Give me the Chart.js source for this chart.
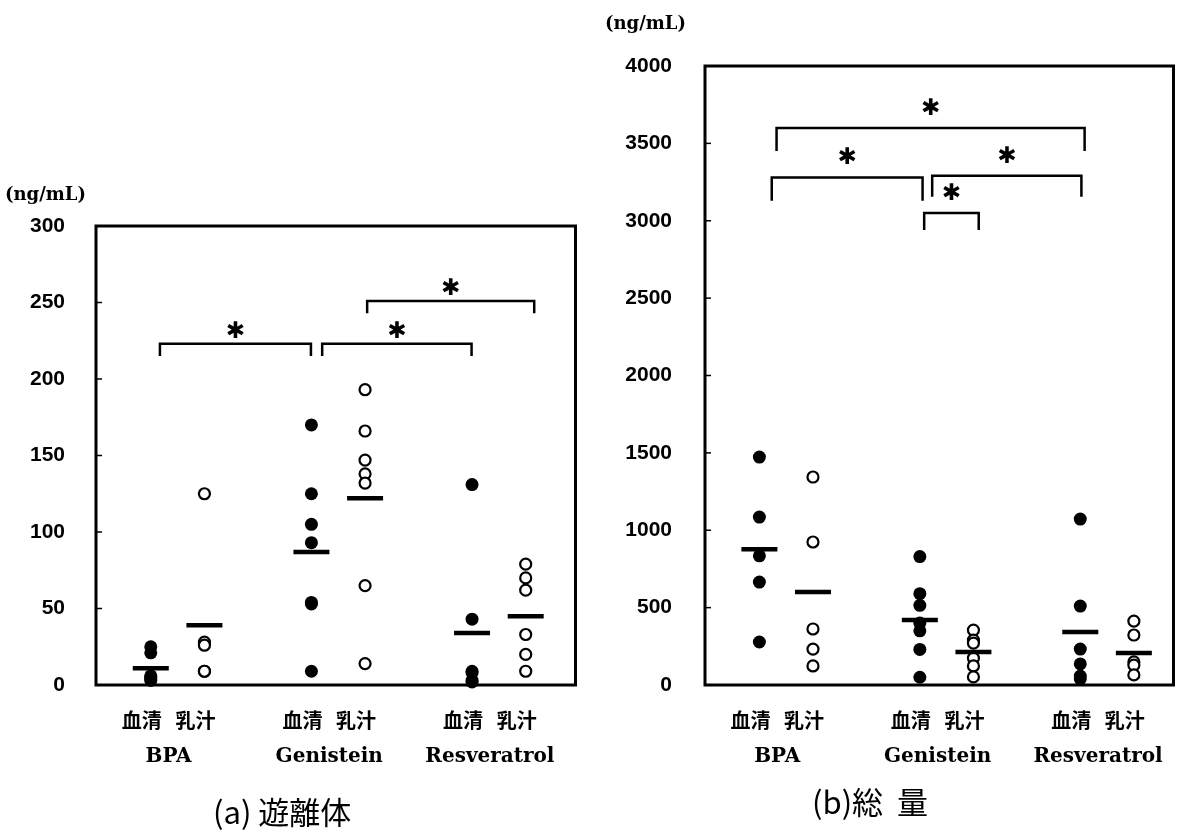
<!DOCTYPE html>
<html>
<head>
<meta charset="utf-8">
<script src="https://cdn.jsdelivr.net/npm/chart.js@4.4.0/dist/chart.umd.min.js"></script>
<style>
    body { margin: 0; background: #fff; width: 1196px; height: 836px; position: relative; overflow: hidden; }
    canvas { position: absolute; top: 0; }
    .unit { position: absolute; font: bold 18px "DejaVu Serif", serif; color: #000; }
    .title { position: absolute; font: 31px "Noto Sans CJK JP", sans-serif; color: #000; white-space: pre; }
</style>
</head>
<body>
<canvas id="chart-free" width="598" height="836" style="left:0"></canvas>
<canvas id="chart-total" width="598" height="836" style="left:598px"></canvas>
<div class="unit" style="left:5px; top:183px">(ng/mL)</div>
<div class="unit" style="left:605px; top:12px">(ng/mL)</div>
<div class="title" style="left:213px; top:788px">(a) 遊離体</div>
<div class="title" style="left:812px; top:778px">(b)総  量</div>

<script>
const groups = ['BPA', 'Genistein', 'Resveratrol']
const sampleTypes = ['血清', '乳汁']

// (a) 遊離体  - valores por grupo (BPA, Genistein, Resveratrol)
const freeSerum = [[25, 21, 6, 5, 4, 3], [170, 125, 105, 93, 54, 53, 9], [131, 43, 9, 8, 3, 2]]
const freeMilk = [[125, 28, 26, 9, 9], [193, 166, 147, 138, 132, 65, 14], [79, 70, 62, 33, 20, 9]]
const freeSerumMean = [11, 87, 34]
const freeMilkMean = [39, 122, 45]
const freeTicks = [0, 50, 100, 150, 200, 250, 300]
// colchetes de significância: de, até, altura, descida
const freeBrackets = [[-0.11, 0.83, 223, 8], [0.9, 1.83, 223, 8], [1.18, 2.22, 251, 8]]

// (b) 総量
const totalSerum = [[1473, 1085, 835, 665, 278], [830, 590, 515, 400, 350, 230, 50], [1072, 510, 232, 136, 58, 39]]
const totalMilk = [[1344, 924, 362, 232, 123], [355, 290, 271, 174, 123, 52], [413, 323, 149, 129, 65]]
const totalSerumMean = [877, 420, 342]
const totalMilkMean = [601, 213, 207]
const totalTicks = [0, 500, 1000, 1500, 2000, 2500, 3000, 3500, 4000]
const totalBrackets = [[-0.06, 1.86, 3600, 150], [-0.09, 0.85, 3280, 150], [0.91, 1.84, 3290, 135], [0.86, 1.2, 3050, 110]]



const SIDE = 0.167

const toPoints = (values, side) => values.flatMap((vals, g) => vals.map(v => ({ x: g + side * SIDE, y: v })))
const toMeans = (means, side) => means.map((v, g) => ({ x: g + side * SIDE, y: v }))

// posições dos rótulos do eixo x (colunas + centro do grupo)
const xTickValues = groups.flatMap((_, g) => [g - SIDE, g, g + SIDE])

const xLabel = (value) => {
    const g = Math.round(value)
    const d = value - g
    if (Math.abs(d) < 0.01) return ['', groups[g]]
    return d < 0 ? sampleTypes[0] : sampleTypes[1]
}


const framePlugin = {
    id: 'frame',
    afterDatasetsDraw(chart, args, opts) {
        const { ctx, chartArea: a, scales: { x, y } } = chart
        ctx.save()
        ctx.strokeStyle = '#000'
        ctx.lineWidth = 3
        ctx.strokeRect(a.left, a.top, a.right - a.left, a.bottom - a.top)

        // pequenas marcas internas no eixo y
        ctx.lineWidth = 1.5
        y.ticks.forEach(t => {
            const py = y.getPixelForValue(t.value)
            ctx.beginPath()
            ctx.moveTo(a.left, py)
            ctx.lineTo(a.left + 6, py)
            ctx.stroke()
        })

        // asteriscos
        ctx.fillStyle = '#000'
        ctx.font = '23px "DejaVu Sans"'
        ctx.textAlign = 'center'
        ctx.textBaseline = 'middle'
        opts.brackets.forEach(b => {
            const px = x.getPixelForValue((b[0] + b[1]) / 2)
            const py = y.getPixelForValue(b[2])
            ctx.fillText('✱', px, py - opts.starGap)
        })
        ctx.restore()
    }
}


const makeChart = (id, cfg) => {
    const datasets = [
        {
            label: 'mean',
            data: [...toMeans(cfg.serumMean, -1), ...toMeans(cfg.milkMean, 1)],
            pointStyle: 'line',
            pointRadius: 18,
            borderWidth: 4.5,
            borderColor: '#000',
            order: 0,
            clip: false
        },
        {
            label: sampleTypes[0],
            data: toPoints(cfg.serum, -1),
            pointStyle: 'circle',
            pointRadius: 6.5,
            backgroundColor: '#000',
            borderColor: '#000',
            borderWidth: 0,
            order: 1,
            clip: false
        },
        {
            label: sampleTypes[1],
            data: toPoints(cfg.milk, 1),
            pointStyle: 'circle',
            pointRadius: 5.5,
            backgroundColor: '#fff',
            borderColor: '#000',
            borderWidth: 2.2,
            order: 1,
            clip: false
        },
        ...cfg.brackets.map(b => ({
            label: 'bracket',
            data: [
                { x: b[0], y: b[2] - b[3] },
                { x: b[0], y: b[2] },
                { x: b[1], y: b[2] },
                { x: b[1], y: b[2] - b[3] }
            ],
            showLine: true,
            borderColor: '#000',
            borderWidth: 2.5,
            pointRadius: 0,
            order: 2,
            clip: false
        }))
    ]

    return new Chart(document.getElementById(id), {
        type: 'scatter',
        data: { datasets },
        options: {
            responsive: false,
            animation: false,
            layout: { padding: { top: cfg.top, right: cfg.right, left: 0, bottom: 0 } },
            plugins: {
                legend: { display: false },
                tooltip: { enabled: false },
                frame: { brackets: cfg.brackets, starGap: cfg.starGap }
            },
            scales: {
                x: {
                    type: 'linear',
                    min: cfg.xMin,
                    max: cfg.xMax,
                    grid: { display: false, drawTicks: false },
                    border: { display: false },
                    afterBuildTicks: (scale) => { scale.ticks = xTickValues.map(v => ({ value: v })) },
                    afterFit: (scale) => { scale.height = 151 },
                    ticks: {
                        autoSkip: false,
                        maxRotation: 0,
                        padding: 23,
                        labelOffset: -9,
                        color: '#000',
                        callback: (value) => xLabel(value),
                        font: (c) => {
                            const v = c.tick ? c.tick.value : 0
                            if (Math.abs(v - Math.round(v)) < 0.01) {
                                return { family: '"DejaVu Serif", serif', size: 20, weight: 'bold', lineHeight: 1.62 }
                            }
                            return { family: '"Noto Sans CJK JP", sans-serif', size: 20, weight: 'bold', lineHeight: 1.2 }
                        }
                    }
                },
                y: {
                    min: 0,
                    max: cfg.ticks[cfg.ticks.length - 1],
                    grid: { display: false, drawTicks: false },
                    border: { display: false },
                    afterBuildTicks: (scale) => { scale.ticks = cfg.ticks.map(v => ({ value: v })) },
                    afterFit: (scale) => { scale.width = cfg.yWidth },
                    ticks: {
                        padding: cfg.yPad,
                        color: '#000',
                        callback: (value) => String(value),
                        font: { family: '"Liberation Sans", Arial, sans-serif', size: 21, weight: 'bold' }
                    }
                }
            }
        },
        plugins: [framePlugin]
    })
}


window.addEventListener('load', () => {
    makeChart('chart-free', {
        serum: freeSerum, milk: freeMilk,
        serumMean: freeSerumMean, milkMean: freeMilkMean,
        ticks: freeTicks, brackets: freeBrackets,
        top: 226, right: 20, yWidth: 96, yPad: 31,
        xMin: -0.508, xMax: 2.477, starGap: 12
    })

    makeChart('chart-total', {
        serum: totalSerum, milk: totalMilk,
        serumMean: totalSerumMean, milkMean: totalMilkMean,
        ticks: totalTicks, brackets: totalBrackets,
        top: 66, right: 18, yWidth: 107, yPad: 33,
        xMin: -0.506, xMax: 2.414, starGap: 19
    })
})
</script>
</body>
</html>
